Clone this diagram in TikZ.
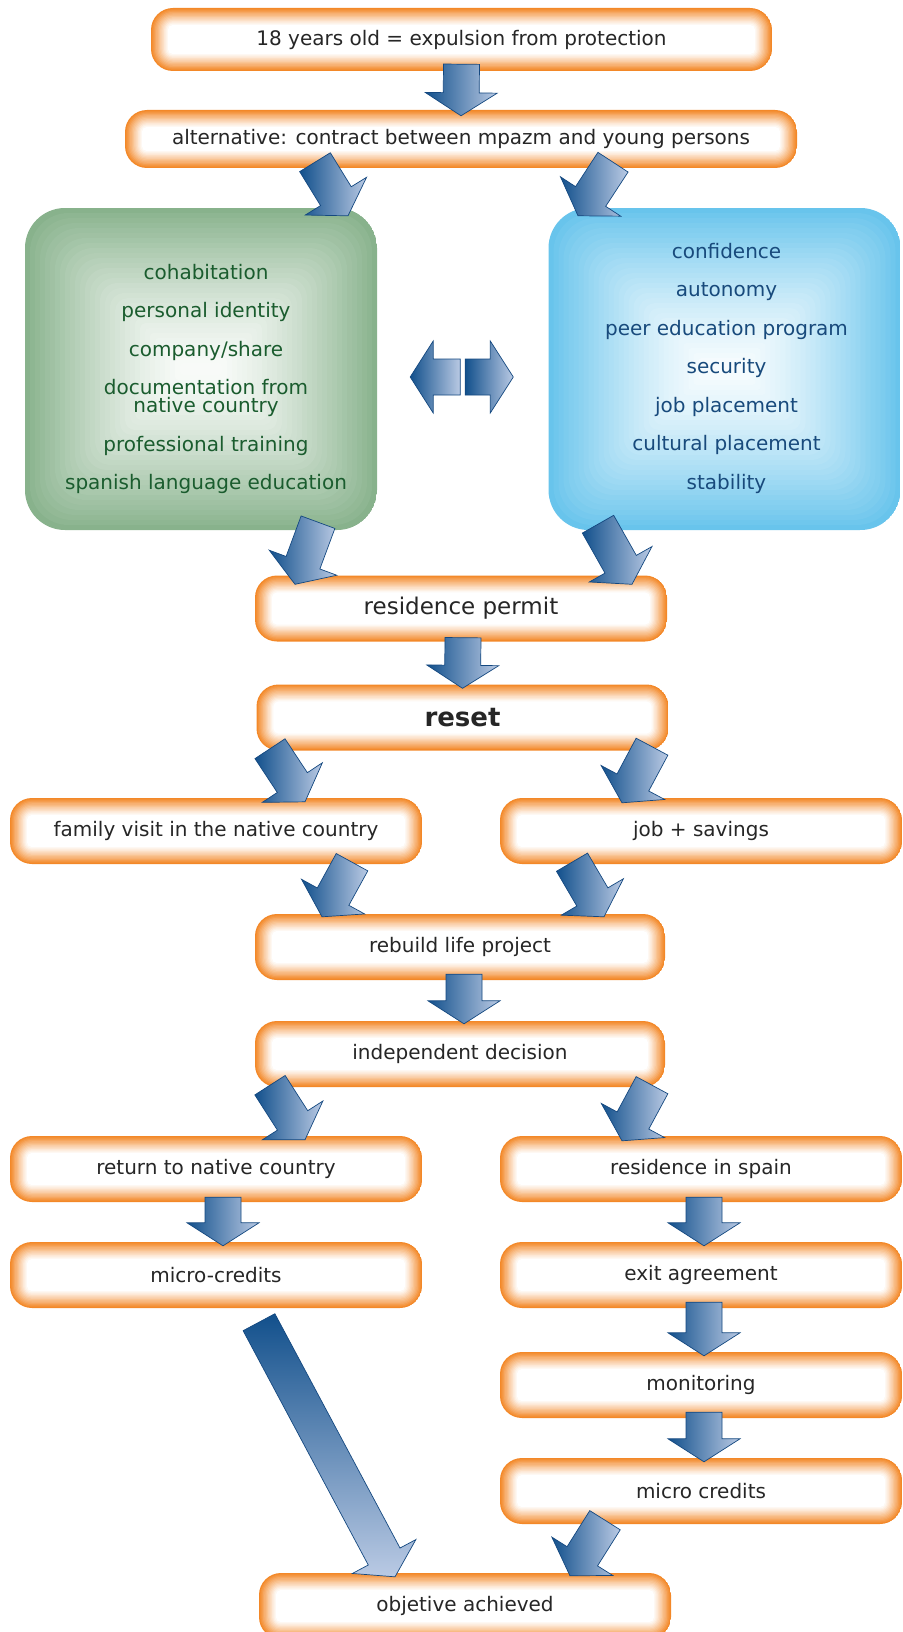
\documentclass[tikz,border=0pt]{standalone}
\usepackage{fontspec}
\setmainfont{DejaVu Sans}
\usetikzlibrary{calc}
\definecolor{boxorange}{RGB}{243,136,40}
\definecolor{panelgreen}{RGB}{136,178,140}
\definecolor{panelblue}{RGB}{104,196,236}
\definecolor{textgreen}{RGB}{26,92,46}
\definecolor{textblue}{RGB}{24,74,124}
\definecolor{textgray}{RGB}{38,38,38}
\definecolor{arrowdark}{RGB}{18,80,140}
\definecolor{arrowlight}{RGB}{186,202,228}
\definecolor{arrowline}{RGB}{20,72,128}
\tikzset{
  glowbox/.style={minimum width=412pt,minimum height=66pt,inner sep=0pt,rounded corners=22pt,
    fill=white,text=textgray,font=\fontsize{20}{24}\selectfont,
    path picture={\foreach \i in {0,...,13}{
        \pgfmathtruncatemacro\mix{100*(1-\i/13)^1.1}
        \pgfmathsetmacro\rad{max(22-\i*1.3,2)}
        \fill[boxorange!\mix!white,rounded corners=\rad pt]
          ([xshift=\i*1.3pt,yshift=\i*1.3pt]path picture bounding box.south west) rectangle
          ([xshift=-\i*1.3pt,yshift=-\i*1.3pt]path picture bounding box.north east);}}},
  panel/.style={minimum width=352pt,minimum height=322pt,inner sep=0pt,rounded corners=40pt,
    fill=white,
    path picture={\foreach \i in {0,...,31}{
        \pgfmathtruncatemacro\mix{6+94*(1-\i/32)^1.4}
        \pgfmathsetmacro\rad{max(40-\i*1.5,3)}
        \fill[#1!\mix!white,rounded corners=\rad pt]
          ([xshift=\i*5pt,yshift=\i*5pt]path picture bounding box.south west) rectangle
          ([xshift=-\i*5pt,yshift=-\i*5pt]path picture bounding box.north east);}}},
  listtext/.style={align=center,inner sep=0pt,font=\fontsize{20}{38.5}\selectfont},
  flowarrow/.style={draw=arrowline,line width=0.7pt,left color=arrowdark,right color=arrowlight}
}
% block arrow from #2 (shaft end) to #3 (tip)
\newcommand{\flowarr}[3][]{%
  \draw[flowarrow,#1] let \p1=(#2), \p2=(#3),
      \n1={atan2(\y2-\y1,\x2-\x1)}, \n2={veclen(\x2-\x1,\y2-\y1)-23pt},
      \n3={\n1+90}, \n4={\n1-90} in
    ($(\p1)+(\n3:18pt)$) -- ($(\p1)+(\n1:\n2)+(\n3:18pt)$) -- ($(\p1)+(\n1:\n2)+(\n3:36pt)$)
    -- (\p2) -- ($(\p1)+(\n1:\n2)+(\n4:36pt)$) -- ($(\p1)+(\n1:\n2)+(\n4:18pt)$)
    -- ($(\p1)+(\n4:18pt)$) -- cycle;}
\begin{document}
\begin{tikzpicture}[x=1pt,y=-1pt]
  \fill[white] (0,0) rectangle (902,1632);
  \useasboundingbox (0,0) rectangle (902,1632);
  % boxes
  \node[glowbox,minimum width=621pt,minimum height=63pt] (expel) at (461.5,39.5) {18 years old = expulsion from protection};
  \node[glowbox,minimum width=672pt,minimum height=58pt] (contract) at (461,139) {alternative: contract between mpazm and young persons};
  \node[panel=panelgreen] (assets) at (201,369) {};
  \node[panel=panelblue] (gains) at (724.5,369) {};
  \node[listtext,text=textgreen] (assetlist) at ([xshift=5pt,yshift=-10pt]assets.center) {cohabitation\\ personal identity\\ company/share\\ documentation from\\[-20.5pt] native country\\ professional training\\ spanish language education};
  \node[listtext,text=textblue] (gainlist) at ([xshift=2pt,yshift=1pt]gains.center) {confidence\\ autonomy\\ peer education program\\ security\\ job placement\\ cultural placement\\ stability};
  \node[glowbox,font=\fontsize{23}{28}\selectfont] (permit) at (461,608.5) {residence permit};
  \node[glowbox,font=\fontsize{26}{30}\selectfont\bfseries] (reset) at (462.5,717.5) {reset};
  \node[glowbox] (visit) at (216,831) {family visit in the native country};
  \node[glowbox,minimum width=402pt] (jobsave) at (701,831) {job + savings};
  \node[glowbox,minimum width=410pt] (rebuild) at (460,947) {rebuild life project};
  \node[glowbox,minimum width=410pt] (decide) at (460,1054) {independent decision};
  \node[glowbox] (ret) at (216,1169) {return to native country};
  \node[glowbox,minimum width=402pt] (stay) at (701,1169) {residence in spain};
  \node[glowbox] (credits) at (216,1275) {micro-credits};
  \node[glowbox,minimum width=402pt] (exitag) at (701,1275) {exit agreement};
  \node[glowbox,minimum width=402pt] (monitor) at (701,1385) {monitoring};
  \node[glowbox,minimum width=402pt] (mcredits) at (701,1491) {micro credits};
  \node[glowbox] (goal) at (465,1606) {objetive achieved};
  % arrows
  \flowarr{[yshift=7pt]expel.south}{[yshift=-6pt]contract.north}
  \flowarr{[xshift=-146pt,yshift=6pt]contract.south}{[xshift=147pt,yshift=-8pt]assets.north}
  \flowarr{[xshift=152pt,yshift=6pt]contract.south}{[xshift=-146.5pt,yshift=-8pt]gains.north}
  \flowarr{[xshift=-88pt,yshift=-8pt]gains.west}{[xshift=33pt,yshift=-8pt]assets.east}
  \flowarr{[xshift=88pt,yshift=-8pt]assets.east}{[xshift=-35pt,yshift=-8pt]gains.west}
  \flowarr{[xshift=117pt,yshift=8pt]assets.south}{[xshift=-166pt,yshift=-9pt]permit.north}
  \flowarr{[xshift=-126.5pt,yshift=6pt]gains.south}{[xshift=171pt,yshift=-9pt]permit.north}
  \flowarr{[xshift=2pt,yshift=4pt]permit.south}{[yshift=-4pt]reset.north}
  \flowarr{[xshift=-192.5pt,yshift=2pt]reset.south}{[xshift=89pt,yshift=-4pt]visit.north}
  \flowarr{[xshift=189.5pt,yshift=4pt]reset.south}{[xshift=-79pt,yshift=-5pt]jobsave.north}
  \flowarr{[xshift=136pt,yshift=2pt]visit.south}{[xshift=-138pt,yshift=-3pt]rebuild.north}
  \flowarr{[xshift=-129pt,yshift=2pt]jobsave.south}{[xshift=144pt,yshift=-3pt]rebuild.north}
  \flowarr{[xshift=4pt,yshift=6pt]rebuild.south}{[xshift=4pt,yshift=-3pt]decide.north}
  \flowarr{[xshift=-190pt,yshift=2pt]decide.south}{[xshift=89pt,yshift=-4pt]ret.north}
  \flowarr{[xshift=192pt,yshift=2pt]decide.south}{[xshift=-79pt,yshift=-5pt]stay.north}
  \flowarr{[xshift=7pt,yshift=5pt]ret.south}{[xshift=7pt,yshift=-4pt]credits.north}
  \flowarr{[xshift=3pt,yshift=5pt]stay.south}{[xshift=3pt,yshift=-4pt]exitag.north}
  \flowarr{[xshift=3pt,yshift=6pt]exitag.south}{[xshift=3pt,yshift=-4pt]monitor.north}
  \flowarr{[xshift=3pt,yshift=6pt]monitor.south}{[xshift=3pt,yshift=-4pt]mcredits.north}
  \flowarr{[xshift=-96pt,yshift=4pt]mcredits.south}{[xshift=105pt,yshift=-3pt]goal.north}
  \flowarr[top color=arrowdark,bottom color=arrowlight]{[xshift=43pt,yshift=-14pt]credits.south}{[xshift=-70pt,yshift=-4pt]goal.north}
\end{tikzpicture}
\end{document}
